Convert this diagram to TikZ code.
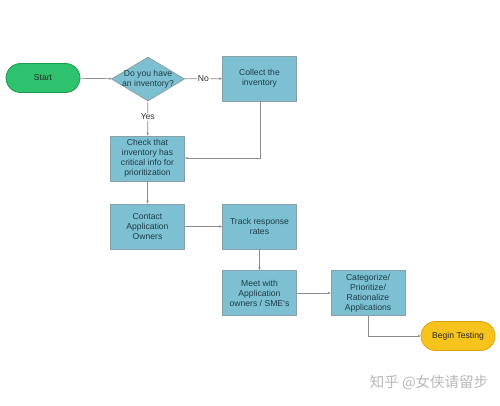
\documentclass[tikz,border=0pt]{standalone}
\usepackage{fontspec}
\setmainfont{Liberation Sans}
\newfontfamily\cjk{Noto Sans CJK SC}
\usetikzlibrary{shapes.geometric,arrows.meta}
\definecolor{boxfill}{HTML}{7CC0D2}
\definecolor{boxline}{HTML}{8A9EA6}
\definecolor{startfill}{HTML}{2EC26E}
\definecolor{startline}{HTML}{1E9A52}
\definecolor{endfill}{HTML}{F7C31C}
\definecolor{endline}{HTML}{D9A40E}
\definecolor{conn}{HTML}{8C8C8C}
\definecolor{txt}{HTML}{1E3C46}
\begin{document}
\begin{tikzpicture}[x=1pt,y=-1pt,
  every node/.style={font=\fontsize{8.6}{10}\selectfont, text=txt, align=center},
  procbox/.style={draw=boxline, fill=boxfill, line width=0.8pt, minimum width=74pt, minimum height=45pt, inner sep=1pt},
  term/.style={draw=#1, rounded corners=14.5pt, line width=0.8pt, minimum width=74pt, minimum height=29pt},
  decision/.style={diamond, draw=boxline, fill=boxfill, line width=0.8pt, minimum width=73pt, minimum height=44pt, inner sep=0pt},
  conn/.style={draw=conn, line width=0.7pt, -{Stealth[length=3pt,width=2.5pt]}},
  lbl/.style={fill=white, inner sep=1pt, font=\fontsize{8.6}{10}\selectfont, text=black!80}]
\useasboundingbox (0,0) rectangle (500,405);
\node[term=startline, fill=startfill, text=black!85] (start) at (43,78) {Start};
\node[decision] (inv) at (148,79) {};
\node (invtext) at (inv) {Do you have\\an inventory?};
\node[procbox] (collect) at (259.5,78.5) {Collect the\\inventory};
\node[procbox] (check) at (147.5,158.5) {Check that\\inventory has\\critical info for\\prioritization};
\node[procbox] (contact) at (147.5,226.5) {Contact\\Application\\Owners};
\node[procbox] (track) at (259.5,226.5) {Track response\\rates};
\node[procbox] (meet) at (259.5,293) {Meet with\\Application\\owners / SME`s};
\node[procbox] (cat) at (368,293) {Categorize/\\Prioritize/\\Rationalize\\Applications};
\node[term=endline, fill=endfill, text=black!85] (end) at (458,336) {Begin Testing};
\coordinate (c1) at (260,158);
\coordinate (c2) at (368,336);
\draw[conn] (start) -- (inv);
\draw[conn] (inv) -- node[lbl]{No} (collect);
\draw[conn] (inv) -- node[lbl, pos=0.45]{Yes} (check);
\draw[conn] (collect.south -| c1) -- (c1) -- (check.east |- c1);
\draw[conn] (check) -- (contact);
\draw[conn] (contact) -- (track);
\draw[conn] (track) -- (meet);
\draw[conn] (meet) -- (cat);
\draw[conn] (cat.south -| c2) -- (c2) -- (end);
\node[font=\cjk\fontsize{14.5}{18}\selectfont, text=black!28] (wm) at (429,383) {知乎 @女侠请留步};
\end{tikzpicture}
\end{document}
